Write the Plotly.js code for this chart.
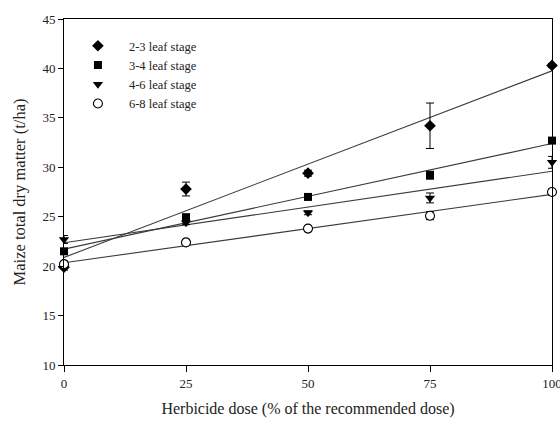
<!DOCTYPE html>
<html>
<head>
<meta charset="utf-8">
<script src="https://cdn.plot.ly/plotly-3.0.1.min.js"></script>
<style>
html,body{margin:0;padding:0;background:#fff;}
#chart{width:560px;height:421px;}
</style>
</head>
<body>
<div id="chart"></div>
<script>
// Data
const doses = [0, 25, 50, 75, 100];
const seriesNames = ["2-3 leaf stage", "3-4 leaf stage", "4-6 leaf stage", "6-8 leaf stage"];
const stage23 = [19.9, 27.8, 29.4, 34.2, 40.3];
const stage34 = [21.5, 24.9, 27.0, 29.2, 32.7];
const stage46 = [22.7, 24.4, 25.4, 26.9, 30.5];
const stage68 = [20.2, 22.4, 23.8, 25.1, 27.5];
const err23 = [0.3, 0.7, 0.3, 2.3, 0.2];
const err34 = [0.2, 0.4, 0.2, 0.4, 0.2];
const err46 = [0.4, 0.2, 0.2, 0.5, 0.6];
const err68 = [0.3, 0.2, 0.2, 0.4, 0.3];
const xTicks = [0, 25, 50, 75, 100];
const yTicks = [10, 15, 20, 25, 30, 35, 40, 45];

const seriesValues = [stage23, stage34, stage46, stage68];
const seriesErrors = [err23, err34, err46, err68];
const symbols = ["diamond", "square", "triangle-down", "circle"];
const sizes = [9, 8, 9, 9];
const fills = ["#000", "#000", "#000", "#fff"];

function linfit(xs, ys) {
  const n = xs.length;
  const mx = xs.reduce((a, b) => a + b, 0) / n;
  const my = ys.reduce((a, b) => a + b, 0) / n;
  let num = 0, den = 0;
  for (let i = 0; i < n; i++) { num += (xs[i] - mx) * (ys[i] - my); den += (xs[i] - mx) ** 2; }
  const b = num / den;
  return { a: my - b * mx, b: b };
}

const traces = [];
seriesValues.forEach((vals, i) => {
  const f = linfit(doses, vals);
  const xs = [doses[0], doses[doses.length - 1]];
  traces.push({
    x: xs, y: xs.map(v => f.a + f.b * v),
    mode: "lines", type: "scatter", showlegend: false, hoverinfo: "skip",
    line: { color: "#3a3a3a", width: 1.1 }, cliponaxis: true
  });
});
seriesValues.forEach((vals, i) => {
  traces.push({
    x: doses, y: vals, name: seriesNames[i],
    mode: "markers", type: "scatter", cliponaxis: false,
    marker: { symbol: symbols[i], size: sizes[i], color: fills[i],
              line: { color: "#000", width: i === 3 ? 1.1 : 0 } },
    error_y: { type: "data", array: seriesErrors[i], visible: true, color: "#000", thickness: 1, width: 4 }
  });
});

const layout = {
  width: 560, height: 421,
  margin: { l: 64, r: 8, t: 19, b: 56 },
  paper_bgcolor: "#fff", plot_bgcolor: "#fff",
  font: { family: "Liberation Serif, Times New Roman, serif", color: "#222", size: 13 },
  showlegend: true,
  legend: {
    x: 0.006, y: 0.965, xanchor: "left", yanchor: "top", itemwidth: 52,
    bgcolor: "rgba(0,0,0,0)", font: { size: 12.5, color: "#222" }, tracegroupgap: 0
  },
  xaxis: {
    range: [0, 100], tickvals: xTicks, ticktext: xTicks.map(String), ticklabeloverflow: "allow",
    showgrid: false, zeroline: false, showline: true, linecolor: "#000", linewidth: 1, mirror: true,
    ticks: "outside", ticklen: 6, tickcolor: "#000", tickfont: { size: 13 },
    title: { text: "Herbicide dose (% of the recommended dose)", font: { size: 16 }, standoff: 13 }
  },
  yaxis: {
    range: [10, 45], tickvals: yTicks, ticktext: yTicks.map(String), ticklabeloverflow: "allow",
    showgrid: false, zeroline: false, showline: true, linecolor: "#000", linewidth: 1, mirror: true,
    ticks: "outside", ticklen: 5, tickcolor: "#000", tickfont: { size: 13 },
    title: { text: "Maize total dry matter (t/ha)", font: { size: 16.5 }, standoff: 12 }
  }
};

Plotly.newPlot("chart", traces, layout, { staticPlot: true, displayModeBar: false });
</script>
</body>
</html>
